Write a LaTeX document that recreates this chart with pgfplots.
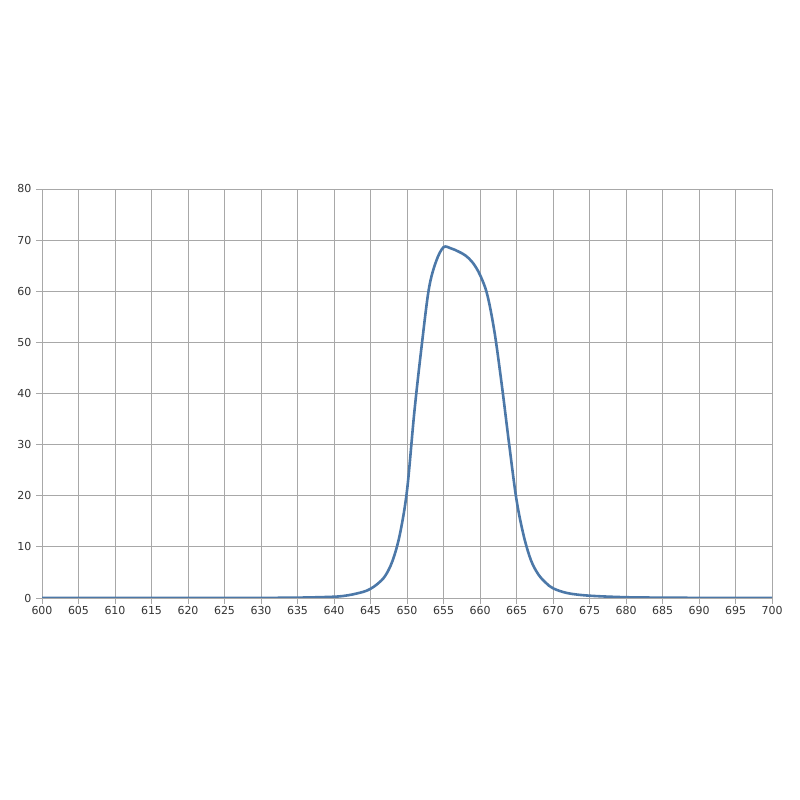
\documentclass[border=0pt]{standalone}
\usepackage{pgfplots}
\pgfplotsset{compat=1.18}
\usepackage{fontspec}
\setmainfont{DejaVu Sans}
\definecolor{curve}{HTML}{4C78A8}
\definecolor{gridc}{HTML}{A8A8A8}
\begin{document}
\begin{tikzpicture}
\useasboundingbox (0pt,0pt) rectangle (800pt,800pt);
\begin{axis}[
  at={(42pt,202pt)}, anchor=south west,
  scale only axis, width=730pt, height=409pt,
  xmin=600, xmax=700, ymin=0, ymax=80,
  xtick distance=5, ytick distance=10,
  grid=major,
  major grid style={gridc, line width=0.9pt},
  axis line style={gridc, line width=0.9pt},
  tick style={gridc, line width=0.9pt},
  tick align=outside, major tick length=6pt,
  xtick pos=bottom, ytick pos=left,
  axis lines*=left,
  tick label style={font=\fontsize{11}{13}\selectfont, text=black!80},
  /pgf/number format/assume math mode=true,
  /pgf/number format/1000 sep={},
  xticklabel style={yshift=1pt},
  yticklabel style={xshift=-1pt},
]
\addplot[curve, line width=2.6pt, smooth, tension=0.55] coordinates {
(600,0) (610,0) (620,0.01) (630,0.03) (635,0.07) (640,0.25)
(642,0.55) (644,1.2) (645,1.8) (646,2.8) (647,4.3) (648,7.2) (649,12.3)
(650,21) (651,36.3) (652,49.2) (653,60.5) (654,65.9) (655,68.6)
(656,68.4) (657,67.8) (658,67.0) (659,65.6) (660,63.2) (661,59.3)
(662,51.9) (663,41.5) (664,30) (665,19.2) (666,12.1) (667,7.3)
(668,4.6) (669,3.0) (670,1.9) (672,0.95) (675,0.45) (680,0.15)
(685,0.07) (690,0.03) (700,0)
};
\end{axis}
\end{tikzpicture}
\end{document}
